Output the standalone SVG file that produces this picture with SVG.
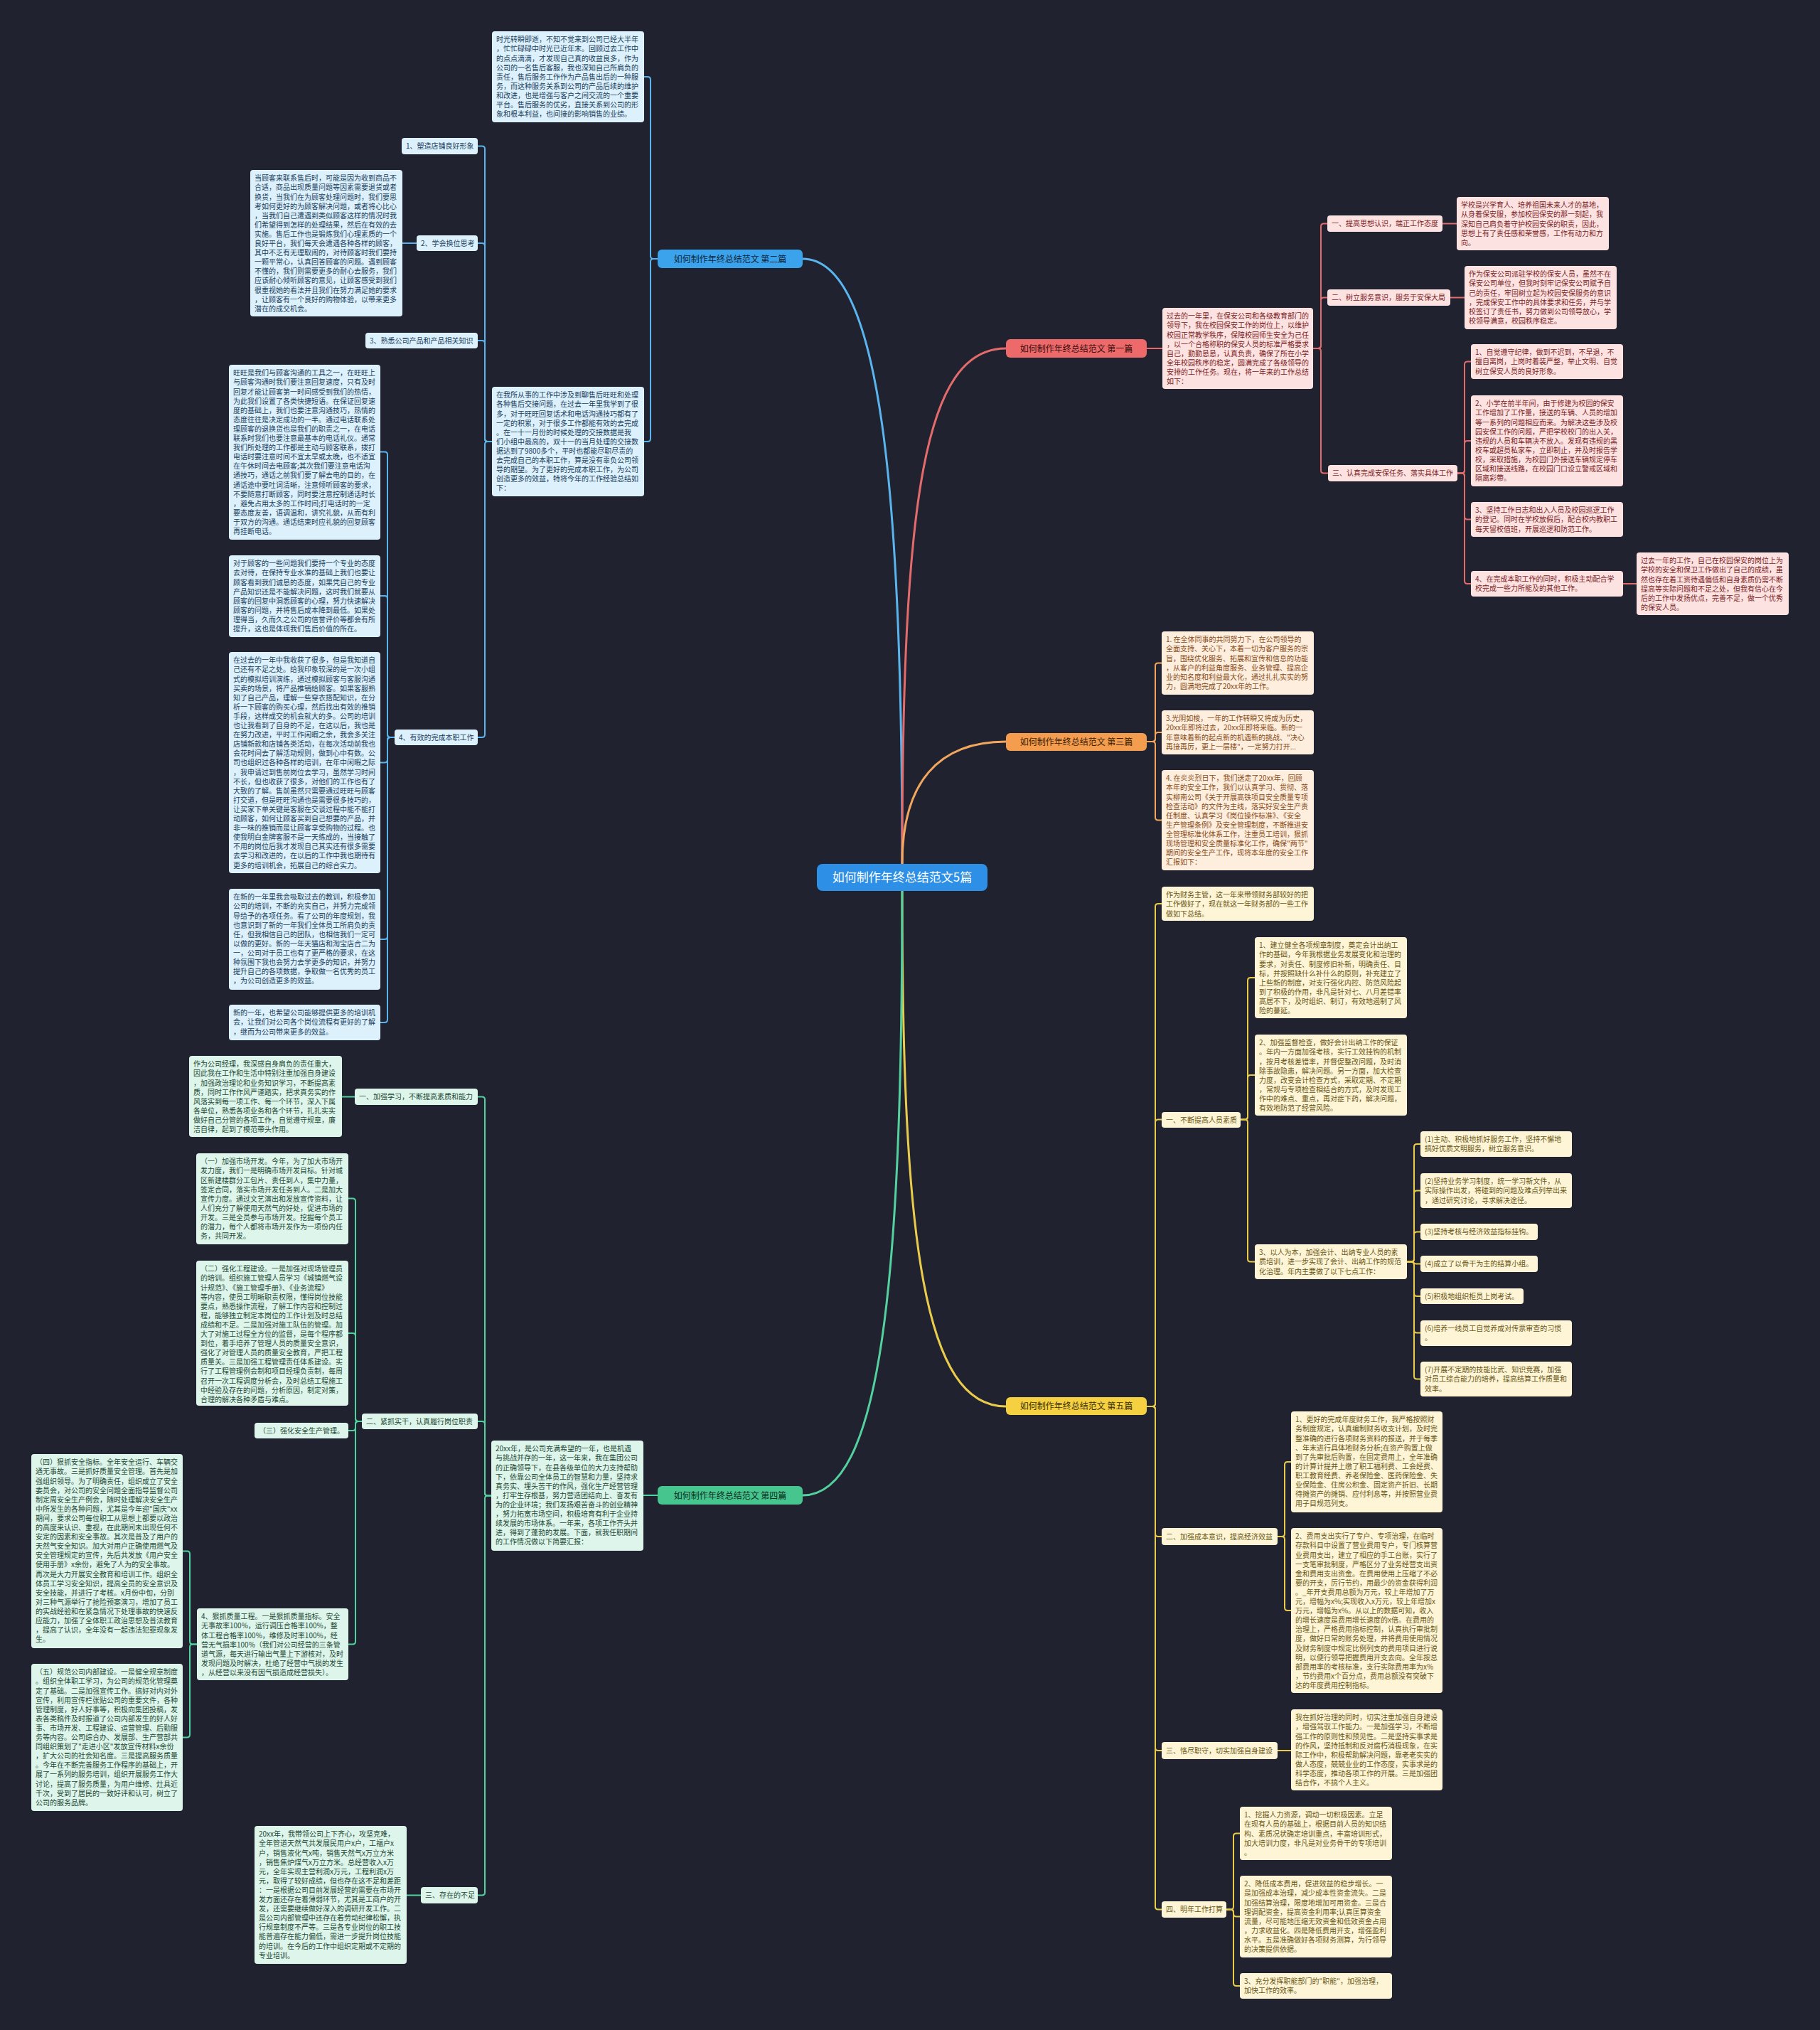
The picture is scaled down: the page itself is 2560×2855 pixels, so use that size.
<svg xmlns="http://www.w3.org/2000/svg" width="2560" height="2855" viewBox="0 0 2560 2855">
<style>
.t{font-family:"Noto Sans CJK SC","Noto Sans",sans-serif;font-size:10px}
.bt{font-family:"Noto Sans CJK SC","Noto Sans",sans-serif;font-size:12px;text-anchor:middle}
.rt{font-family:"Noto Sans CJK SC","Noto Sans",sans-serif;font-size:17px;text-anchor:middle;fill:#ffffff}
.fb{fill:#dcf1fb}.tbb{fill:#21405e}
.fr{fill:#fde2e2}.tbr{fill:#7b2424}
.fo{fill:#fdeede}.tbo{fill:#8a4b17}
.fy{fill:#fdf5d6}.tby{fill:#6a5515}
.fg{fill:#ddf5ea}.tbg{fill:#1f4a37}
.cb{fill:none;stroke:#5ab4ee;stroke-width:2}
.cr{fill:none;stroke:#e36b6b;stroke-width:2}
.co{fill:none;stroke:#f3a65d;stroke-width:2}
.cy{fill:none;stroke:#e9cc4c;stroke-width:2}
.cg{fill:none;stroke:#53d19f;stroke-width:2}
.main{stroke-width:3}
</style>
<rect x="0" y="0" width="2560" height="2855" fill="#20232f"/>

<g id="connectors">
<path class="cb main" d="M1269 1215 C1269 700 1240 364 1129 364"/>
<path class="cb" d="M925 364 H919 Q915 364 915 360 V112 Q915 108 911 108 H906"/>
<path class="cb" d="M925 364 H919 Q915 364 915 368 V617 Q915 621 911 621 H906"/>
<path class="cb" d="M692 621 H686 Q682 621 682 617 V209.5 Q682 205.5 678 205.5 H672"/>
<path class="cb" d="M692 621 H686 Q682 621 682 617 V346 Q682 342 678 342 H672"/>
<path class="cb" d="M692 621 H686 Q682 621 682 617 V483 Q682 479 678 479 H672"/>
<path class="cb" d="M692 621 H686 Q682 621 682 625 V1033 Q682 1037 678 1037 H672"/>
<path class="cb" d="M586 342 H566"/>
<path class="cb" d="M555 1037 H549 Q545 1037 545 1033 V639.5 Q545 635.5 541 635.5 H535"/>
<path class="cb" d="M555 1037 H549 Q545 1037 545 1033 V842 Q545 838 541 838 H535"/>
<path class="cb" d="M555 1037 H549 Q545 1037 545 1041 V1068.5 Q545 1072.5 541 1072.5 H535"/>
<path class="cb" d="M555 1037 H549 Q545 1037 545 1041 V1317 Q545 1321 541 1321 H535"/>
<path class="cb" d="M555 1037 H549 Q545 1037 545 1041 V1434 Q545 1438 541 1438 H535"/>

<path class="cr main" d="M1269 1215 C1269 700 1300 490 1415 490"/>
<path class="cr" d="M1613 490 H1635"/>
<path class="cr" d="M1847 490 H1854 Q1858 490 1858 486 V318.5 Q1858 314.5 1862 314.5 H1867"/>
<path class="cr" d="M1847 490 H1854 Q1858 490 1858 486 V422.5 Q1858 418.5 1862 418.5 H1867"/>
<path class="cr" d="M1847 490 H1854 Q1858 490 1858 494 V661.5 Q1858 665.5 1862 665.5 H1868"/>
<path class="cr" d="M2029 314.5 H2049"/>
<path class="cr" d="M2040 418.5 H2060"/>
<path class="cr" d="M2050 665.5 H2056 Q2060 665.5 2060 661.5 V512.5 Q2060 508.5 2064 508.5 H2069"/>
<path class="cr" d="M2050 665.5 H2056 Q2060 665.5 2060 661.5 V624 Q2060 620 2064 620 H2069"/>
<path class="cr" d="M2050 665.5 H2056 Q2060 665.5 2060 669.5 V726.5 Q2060 730.5 2064 730.5 H2069"/>
<path class="cr" d="M2050 665.5 H2056 Q2060 665.5 2060 669.5 V817 Q2060 821 2064 821 H2069"/>
<path class="cr" d="M2283 821 H2302"/>

<path class="co main" d="M1269 1215 C1269 1100 1320 1043 1415 1043"/>
<path class="co" d="M1613 1043 H1621 Q1625 1043 1625 1039 V936.5 Q1625 932.5 1629 932.5 H1634"/>
<path class="co" d="M1613 1043 H1621 Q1625 1043 1625 1039 V1034 Q1625 1030 1629 1030 H1634"/>
<path class="co" d="M1613 1043 H1621 Q1625 1043 1625 1047 V1149.5 Q1625 1153.5 1629 1153.5 H1634"/>

<path class="cy main" d="M1269 1253 C1269 1750 1300 1978 1415 1978"/>
<path class="cy" d="M1613 1978 H1621 Q1625 1978 1625 1974 V1275 Q1625 1271 1629 1271 H1634"/>
<path class="cy" d="M1613 1978 H1621 Q1625 1978 1625 1974 V1578.5 Q1625 1574.5 1629 1574.5 H1634"/>
<path class="cy" d="M1613 1978 H1621 Q1625 1978 1625 1982 V2157 Q1625 2161 1629 2161 H1634"/>
<path class="cy" d="M1613 1978 H1621 Q1625 1978 1625 1982 V2458 Q1625 2462 1629 2462 H1634"/>
<path class="cy" d="M1613 1978 H1621 Q1625 1978 1625 1982 V2681.5 Q1625 2685.5 1629 2685.5 H1634"/>
<path class="cy" d="M1745 1574.5 H1751 Q1755 1574.5 1755 1570.5 V1379 Q1755 1375 1759 1375 H1765"/>
<path class="cy" d="M1745 1574.5 H1751 Q1755 1574.5 1755 1570.5 V1516 Q1755 1512 1759 1512 H1765"/>
<path class="cy" d="M1745 1574.5 H1751 Q1755 1574.5 1755 1578.5 V1770.5 Q1755 1774.5 1759 1774.5 H1765"/>
<path class="cy" d="M1979 1774.5 H1985 Q1989 1774.5 1989 1770.5 V1613 Q1989 1609 1993 1609 H1998"/>
<path class="cy" d="M1979 1774.5 H1985 Q1989 1774.5 1989 1770.5 V1678.5 Q1989 1674.5 1993 1674.5 H1998"/>
<path class="cy" d="M1979 1774.5 H1985 Q1989 1774.5 1989 1770.5 V1736.5 Q1989 1732.5 1993 1732.5 H1998"/>
<path class="cy" d="M1979 1774.5 H1984 C1988 1774.5 1988 1777.5 1992 1777.5 H1998"/>
<path class="cy" d="M1979 1774.5 H1985 Q1989 1774.5 1989 1778.5 V1819 Q1989 1823 1993 1823 H1998"/>
<path class="cy" d="M1979 1774.5 H1985 Q1989 1774.5 1989 1778.5 V1870.5 Q1989 1874.5 1993 1874.5 H1998"/>
<path class="cy" d="M1979 1774.5 H1985 Q1989 1774.5 1989 1778.5 V1935.5 Q1989 1939.5 1993 1939.5 H1998"/>
<path class="cy" d="M1797 2161 H1803 Q1807 2161 1807 2157 V2060 Q1807 2056 1811 2056 H1816"/>
<path class="cy" d="M1797 2161 H1803 Q1807 2161 1807 2165 V2261 Q1807 2265 1811 2265 H1816"/>
<path class="cy" d="M1797 2462 H1816"/>
<path class="cy" d="M1725 2685.5 H1731 Q1735 2685.5 1735 2681.5 V2582.5 Q1735 2578.5 1739 2578.5 H1744"/>
<path class="cy" d="M1725 2685.5 H1731 Q1735 2685.5 1735 2689.5 V2691.5 Q1735 2695.5 1739 2695.5 H1744"/>
<path class="cy" d="M1725 2685.5 H1731 Q1735 2685.5 1735 2689.5 V2789 Q1735 2793 1739 2793 H1744"/>

<path class="cg main" d="M1269 1253 C1269 1800 1240 2103 1129 2103"/>
<path class="cg" d="M925 2103 H905"/>
<path class="cg" d="M691 2103.5 H686 Q682 2103.5 682 2099.5 V1546.5 Q682 1542.5 678 1542.5 H672"/>
<path class="cg" d="M691 2103.5 H686 Q682 2103.5 682 2099.5 V2003 Q682 1999 678 1999 H672"/>
<path class="cg" d="M691 2103.5 H686 Q682 2103.5 682 2107.5 V2661.5 Q682 2665.5 678 2665.5 H672"/>
<path class="cg" d="M499 1542.5 H481"/>
<path class="cg" d="M509 1999 H504 Q500 1999 500 1995 V1689.5 Q500 1685.5 496 1685.5 H490"/>
<path class="cg" d="M509 1999 H504 Q500 1999 500 1995 V1879 Q500 1875 496 1875 H490"/>
<path class="cg" d="M509 1999 H504 Q500 1999 500 2003 V2008 Q500 2012 496 2012 H490"/>
<path class="cg" d="M509 1999 H504 Q500 1999 500 2003 V2308.5 Q500 2312.5 496 2312.5 H490"/>
<path class="cg" d="M277 2312.5 H271 Q267 2312.5 267 2308.5 V2185.5 Q267 2181.5 263 2181.5 H257"/>
<path class="cg" d="M277 2312.5 H271 Q267 2312.5 267 2316.5 V2439.5 Q267 2443.5 263 2443.5 H257"/>
<path class="cg" d="M592 2665.5 H572"/>
</g>

<g id="root">
<rect x="1149" y="1215" width="240" height="38" rx="8" fill="#2d8fe6"/>
<text class="rt" x="1269" y="1240">如何制作年终总结范文5篇</text>
</g>

<!-- BLUE BRANCH -->
<g id="b2"><rect x="925" y="351" width="204" height="26" rx="6" fill="#3aa3ec"/><text class="bt" x="1027" y="368.5" fill="#10263a">如何制作年终总结范文 第二篇</text></g>
<g id="b2-top"><rect class="fb" x="692" y="44" width="214" height="128" rx="4"/>
<text class="t tbb" x="698" y="59.3"><tspan x="698" dy="0">时光转瞬即逝，不知不觉来到公司已经大半年</tspan><tspan x="698" dy="13.1">，忙忙碌碌中时光已近年末。回顾过去工作中</tspan><tspan x="698" dy="13.1">的点点滴滴，才发现自己真的收益良多，作为</tspan><tspan x="698" dy="13.1">公司的一名售后客服，我也深知自己所肩负的</tspan><tspan x="698" dy="13.1">责任，售后服务工作作为产品售出后的一种服</tspan><tspan x="698" dy="13.1">务，而这种服务关系到公司的产品后续的维护</tspan><tspan x="698" dy="13.1">和改进，也是增强与客户之间交流的一个重要</tspan><tspan x="698" dy="13.1">平台。售后服务的优劣，直接关系到公司的形</tspan><tspan x="698" dy="13.1">象和根本利益，也间接的影响销售的业绩。</tspan></text></g>
<g id="b2-center"><rect class="fb" x="692" y="544" width="214" height="154" rx="4"/>
<text class="t tbb" x="698" y="559.3"><tspan x="698" dy="0">在我所从事的工作中涉及到聊售后旺旺和处理</tspan><tspan x="698" dy="13.1">各种售后交接问题，在过去一年里我学到了很</tspan><tspan x="698" dy="13.1">多，对于旺旺回复话术和电话沟通技巧都有了</tspan><tspan x="698" dy="13.1">一定的积累，对于很多工作都能有效的去完成</tspan><tspan x="698" dy="13.1">。在一十一月份的时候处理的交接数据是我</tspan><tspan x="698" dy="13.1">们小组中最高的，双十一的当月处理的交接数</tspan><tspan x="698" dy="13.1">据达到了9800多个，平时也都能尽职尽责的</tspan><tspan x="698" dy="13.1">去完成自己的本职工作，算是没有辜负公司领</tspan><tspan x="698" dy="13.1">导的期望。为了更好的完成本职工作，为公司</tspan><tspan x="698" dy="13.1">创造更多的效益，特将今年的工作经验总结如</tspan><tspan x="698" dy="13.1">下：</tspan></text></g>
<g id="b2-l1"><rect class="fb" x="565" y="194" width="107" height="23" rx="4"/><text class="t tbb" x="571" y="209">1、塑造店铺良好形象</text></g>
<g id="b2-l2"><rect class="fb" x="586" y="331" width="86" height="22" rx="4"/><text class="t tbb" x="592" y="345.6">2、学会换位思考</text></g>
<g id="b2-l3"><rect class="fb" x="514" y="468" width="158" height="22" rx="4"/><text class="t tbb" x="520" y="482.6">3、熟悉公司产品和产品相关知识</text></g>
<g id="b2-l4"><rect class="fb" x="555" y="1026" width="117" height="22" rx="4"/><text class="t tbb" x="561" y="1040.6">4、有效的完成本职工作</text></g>
<g id="b2-huan"><rect class="fb" x="352" y="239" width="214" height="206" rx="4"/>
<text class="t tbb" x="358" y="254.3"><tspan x="358" dy="0">当顾客来联系售后时，可能是因为收到商品不</tspan><tspan x="358" dy="13.1">合适，商品出现质量问题等因素需要退货或者</tspan><tspan x="358" dy="13.1">换货，当我们在为顾客处理问题时，我们要思</tspan><tspan x="358" dy="13.1">考如何更好的为顾客解决问题，或者将心比心</tspan><tspan x="358" dy="13.1">，当我们自己遭遇到类似顾客这样的情况时我</tspan><tspan x="358" dy="13.1">们希望得到怎样的处理结果，然后在有效的去</tspan><tspan x="358" dy="13.1">实施。售后工作也是锻炼我们心理素质的一个</tspan><tspan x="358" dy="13.1">良好平台，我们每天会遭遇各种各样的顾客，</tspan><tspan x="358" dy="13.1">其中不乏有无理取闹的，对待顾客时我们要持</tspan><tspan x="358" dy="13.1">一颗平常心，认真回答顾客的问题。遇到顾客</tspan><tspan x="358" dy="13.1">不懂的，我们则需要更多的耐心去服务，我们</tspan><tspan x="358" dy="13.1">应该耐心倾听顾客的意见，让顾客感受到我们</tspan><tspan x="358" dy="13.1">很重视她的看法并且我们在努力满足她的要求</tspan><tspan x="358" dy="13.1">，让顾客有一个良好的购物体验，以带来更多</tspan><tspan x="358" dy="13.1">潜在的成交机会。</tspan></text></g>
<g id="b2-wang"><rect class="fb" x="322" y="513" width="213" height="246" rx="4"/>
<text class="t tbb" x="328" y="528.3"><tspan x="328" dy="0">旺旺是我们与顾客沟通的工具之一，在旺旺上</tspan><tspan x="328" dy="13.1">与顾客沟通时我们要注意回复速度，只有及时</tspan><tspan x="328" dy="13.1">回复才能让顾客第一时间感受到我们的热情，</tspan><tspan x="328" dy="13.1">为此我们设置了各类快捷短语。在保证回复速</tspan><tspan x="328" dy="13.1">度的基础上，我们也要注意沟通技巧，热情的</tspan><tspan x="328" dy="13.1">态度往往是决定成功的一半。通过电话联系处</tspan><tspan x="328" dy="13.1">理顾客的退换货也是我们的职责之一，在电话</tspan><tspan x="328" dy="13.1">联系时我们也要注意最基本的电话礼仪。通常</tspan><tspan x="328" dy="13.1">我们所处理的工作都是主动与顾客联系，拨打</tspan><tspan x="328" dy="13.1">电话时要注意时间不宜太早或太晚，也不适宜</tspan><tspan x="328" dy="13.1">在午休时间去电顾客;其次我们要注意电话沟</tspan><tspan x="328" dy="13.1">通技巧，通话之前我们要了解去电的目的，在</tspan><tspan x="328" dy="13.1">通话途中要吐词清晰，注意倾听顾客的要求，</tspan><tspan x="328" dy="13.1">不要随意打断顾客，同时要注意控制通话时长</tspan><tspan x="328" dy="13.1">，避免占用太多的工作时间;打电话时的一定</tspan><tspan x="328" dy="13.1">要态度友善，语调温和，讲究礼貌，从而有利</tspan><tspan x="328" dy="13.1">于双方的沟通。通话结束时应礼貌的回复顾客</tspan><tspan x="328" dy="13.1">再挂断电话。</tspan></text></g>
<g id="b2-duiyu"><rect class="fb" x="322" y="781" width="213" height="115" rx="4"/>
<text class="t tbb" x="328" y="796.3"><tspan x="328" dy="0">对于顾客的一些问题我们要持一个专业的态度</tspan><tspan x="328" dy="13.1">去对待，在保持专业水准的基础上我们也要让</tspan><tspan x="328" dy="13.1">顾客看到我们诚恳的态度，如果凭自己的专业</tspan><tspan x="328" dy="13.1">产品知识还是不能解决问题，这时我们就要从</tspan><tspan x="328" dy="13.1">顾客的回复中洞悉顾客的心理，努力快速解决</tspan><tspan x="328" dy="13.1">顾客的问题，并将售后成本降到最低。如果处</tspan><tspan x="328" dy="13.1">理得当，久而久之公司的信誉评价等都会有所</tspan><tspan x="328" dy="13.1">提升，这也是体现我们售后价值的所在。</tspan></text></g>
<g id="b2-guoqu"><rect class="fb" x="322" y="917" width="213" height="311" rx="4"/>
<text class="t tbb" x="328" y="932.3"><tspan x="328" dy="0">在过去的一年中我收获了很多，但是我知道自</tspan><tspan x="328" dy="13.1">己还有不足之处。给我印象较深的是一次小组</tspan><tspan x="328" dy="13.1">式的模拟培训演练，通过模拟顾客与客服沟通</tspan><tspan x="328" dy="13.1">买卖的场景，将产品推销给顾客。如果客服熟</tspan><tspan x="328" dy="13.1">知了自己产品，理解一些穿衣搭配知识，在分</tspan><tspan x="328" dy="13.1">析一下顾客的购买心理，然后找出有效的推销</tspan><tspan x="328" dy="13.1">手段，这样成交的机会就大的多。公司的培训</tspan><tspan x="328" dy="13.1">也让我看到了自身的不足，在这以后，我也是</tspan><tspan x="328" dy="13.1">在努力改进，平时工作闲暇之余，我会多关注</tspan><tspan x="328" dy="13.1">店铺新款和店铺各类活动，在每次活动前我也</tspan><tspan x="328" dy="13.1">会花时间去了解活动规则，做到心中有数。公</tspan><tspan x="328" dy="13.1">司也组织过各种各样的培训，在年中闲暇之际</tspan><tspan x="328" dy="13.1">，我申请过到售前岗位去学习，虽然学习时间</tspan><tspan x="328" dy="13.1">不长，但也收获了很多，对他们的工作也有了</tspan><tspan x="328" dy="13.1">大致的了解。售前虽然只需要通过旺旺与顾客</tspan><tspan x="328" dy="13.1">打交道，但是旺旺沟通也是需要很多技巧的，</tspan><tspan x="328" dy="13.1">让买家下单关键是客服在交谈过程中能不能打</tspan><tspan x="328" dy="13.1">动顾客，如何让顾客买到自己想要的产品，并</tspan><tspan x="328" dy="13.1">非一味的推销而是让顾客享受购物的过程。也</tspan><tspan x="328" dy="13.1">使我明白金牌客服不是一天练成的，当接触了</tspan><tspan x="328" dy="13.1">不用的岗位后我才发现自己其实还有很多需要</tspan><tspan x="328" dy="13.1">去学习和改进的，在以后的工作中我也期待有</tspan><tspan x="328" dy="13.1">更多的培训机会，拓展自己的综合实力。</tspan></text></g>
<g id="b2-xinde"><rect class="fb" x="322" y="1250" width="213" height="142" rx="4"/>
<text class="t tbb" x="328" y="1265.3"><tspan x="328" dy="0">在新的一年里我会吸取过去的教训，积极参加</tspan><tspan x="328" dy="13.1">公司的培训，不断的充实自己，并努力完成领</tspan><tspan x="328" dy="13.1">导给予的各项任务。看了公司的年度规划，我</tspan><tspan x="328" dy="13.1">也意识到了新的一年我们全体员工所肩负的责</tspan><tspan x="328" dy="13.1">任，但我相信自己的团队，也相信我们一定可</tspan><tspan x="328" dy="13.1">以做的更好。新的一年天猫店和淘宝店合二为</tspan><tspan x="328" dy="13.1">一，公司对于员工也有了更严格的要求，在这</tspan><tspan x="328" dy="13.1">种氛围下我也会努力去学更多的知识，并努力</tspan><tspan x="328" dy="13.1">提升自己的各项数据，争取做一名优秀的员工</tspan><tspan x="328" dy="13.1">，为公司创造更多的效益。</tspan></text></g>
<g id="b2-xinyinian"><rect class="fb" x="322" y="1413" width="213" height="50" rx="4"/>
<text class="t tbb" x="328" y="1428.3"><tspan x="328" dy="0">新的一年，也希望公司能够提供更多的培训机</tspan><tspan x="328" dy="13.1">会，让我们对公司各个岗位流程有更好的了解</tspan><tspan x="328" dy="13.1">，继而为公司带来更多的效益。</tspan></text></g>

<!-- RED BRANCH -->
<g id="b1"><rect x="1415" y="477" width="198" height="26" rx="6" fill="#ee6a6a"/><text class="bt" x="1514" y="494.5" fill="#3a0e0e">如何制作年终总结范文 第一篇</text></g>
<g id="b1-intro"><rect class="fr" x="1635" y="433" width="212" height="114" rx="4"/>
<text class="t tbr" x="1641" y="448.3"><tspan x="1641" dy="0">过去的一年里，在保安公司和各级教育部门的</tspan><tspan x="1641" dy="13.1">领导下，我在校园保安工作的岗位上，以维护</tspan><tspan x="1641" dy="13.1">校园正常教学秩序，保障校园师生安全为己任</tspan><tspan x="1641" dy="13.1">，以一个合格称职的保安人员的标准严格要求</tspan><tspan x="1641" dy="13.1">自己，勤勤恳恳，认真负责，确保了所在小学</tspan><tspan x="1641" dy="13.1">全年校园秩序的稳定，圆满完成了各级领导的</tspan><tspan x="1641" dy="13.1">安排的工作任务。现在，将一年来的工作总结</tspan><tspan x="1641" dy="13.1">如下：</tspan></text></g>
<g id="b1-l1"><rect class="fr" x="1867" y="303" width="162" height="23" rx="4"/><text class="t tbr" x="1873" y="318">一、提高思想认识，端正工作态度</text></g>
<g id="b1-l2"><rect class="fr" x="1867" y="407" width="173" height="23" rx="4"/><text class="t tbr" x="1873" y="422">二、树立服务意识，服务于安保大局</text></g>
<g id="b1-l3"><rect class="fr" x="1868" y="654" width="182" height="23" rx="4"/><text class="t tbr" x="1874" y="669">三、认真完成安保任务、落实具体工作</text></g>
<g id="b1-xuexiao"><rect class="fr" x="2049" y="277" width="214" height="75" rx="4"/>
<text class="t tbr" x="2055" y="292.3"><tspan x="2055" dy="0">学校是兴学育人、培养祖国未来人才的基地，</tspan><tspan x="2055" dy="13.1">从身着保安服，参加校园保安的那一刻起，我</tspan><tspan x="2055" dy="13.1">深知自己肩负着守护校园安保的职责，因此，</tspan><tspan x="2055" dy="13.1">思想上有了责任感和荣誉感，工作有动力和方</tspan><tspan x="2055" dy="13.1">向。</tspan></text></g>
<g id="b1-zuowei"><rect class="fr" x="2060" y="374" width="214" height="89" rx="4"/>
<text class="t tbr" x="2066" y="389.3"><tspan x="2066" dy="0">作为保安公司派驻学校的保安人员，虽然不在</tspan><tspan x="2066" dy="13.1">保安公司单位，但我时刻牢记保安公司赋予自</tspan><tspan x="2066" dy="13.1">己的责任，牢固树立起为校园安保服务的意识</tspan><tspan x="2066" dy="13.1">，完成保安工作中的具体要求和任务，并与学</tspan><tspan x="2066" dy="13.1">校签订了责任书，努力做到公司领导放心，学</tspan><tspan x="2066" dy="13.1">校领导满意，校园秩序稳定。</tspan></text></g>
<g id="b1-r1"><rect class="fr" x="2069" y="484" width="214" height="49" rx="4"/>
<text class="t tbr" x="2075" y="499.3"><tspan x="2075" dy="0">1、自觉遵守纪律，做到不迟到，不早退，不</tspan><tspan x="2075" dy="13.1">擅自离岗，上岗时着装严整，举止文明、自觉</tspan><tspan x="2075" dy="13.1">树立保安人员的良好形象。</tspan></text></g>
<g id="b1-r2"><rect class="fr" x="2069" y="556" width="214" height="128" rx="4"/>
<text class="t tbr" x="2075" y="571.3"><tspan x="2075" dy="0">2、小学在前半年间，由于修建为校园的保安</tspan><tspan x="2075" dy="13.1">工作增加了工作量，接送的车辆、人员的增加</tspan><tspan x="2075" dy="13.1">等一系列的问题相应而来。为解决这些涉及校</tspan><tspan x="2075" dy="13.1">园安保工作的问题，严把学校校门的出入关，</tspan><tspan x="2075" dy="13.1">违规的人员和车辆决不放入。发现有违规的黑</tspan><tspan x="2075" dy="13.1">校车或超员私家车，立即制止，并及时报告学</tspan><tspan x="2075" dy="13.1">校，采取措施，为校园门外接送车辆规定停车</tspan><tspan x="2075" dy="13.1">区域和接送线路，在校园门口设立警戒区域和</tspan><tspan x="2075" dy="13.1">隔离彩带。</tspan></text></g>
<g id="b1-r3"><rect class="fr" x="2069" y="706" width="214" height="49" rx="4"/>
<text class="t tbr" x="2075" y="721.3"><tspan x="2075" dy="0">3、坚持工作日志和出入人员及校园巡逻工作</tspan><tspan x="2075" dy="13.1">的登记。同时在学校放假后，配合校内教职工</tspan><tspan x="2075" dy="13.1">每天留校值班，开展巡逻和防范工作。</tspan></text></g>
<g id="b1-r4"><rect class="fr" x="2069" y="803" width="214" height="36" rx="4"/>
<text class="t tbr" x="2075" y="818.3"><tspan x="2075" dy="0">4、在完成本职工作的同时，积极主动配合学</tspan><tspan x="2075" dy="13.1">校完成一些力所能及的其他工作。</tspan></text></g>
<g id="b1-guoqu"><rect class="fr" x="2302" y="777" width="214" height="88" rx="4"/>
<text class="t tbr" x="2308" y="792.3"><tspan x="2308" dy="0">过去一年的工作，自己在校园保安的岗位上为</tspan><tspan x="2308" dy="13.1">学校的安全和保卫工作做出了自己的成绩，虽</tspan><tspan x="2308" dy="13.1">然也存在着工资待遇偏低和自身素质仍需不断</tspan><tspan x="2308" dy="13.1">提高等实际问题和不足之处，但我有信心在今</tspan><tspan x="2308" dy="13.1">后的工作中发扬优点，完善不足，做一个优秀</tspan><tspan x="2308" dy="13.1">的保安人员。</tspan></text></g>

<!-- ORANGE BRANCH -->
<g id="b3"><rect x="1415" y="1031" width="198" height="25" rx="6" fill="#f59d4f"/><text class="bt" x="1514" y="1048" fill="#3a1e05">如何制作年终总结范文 第三篇</text></g>
<g id="b3-1"><rect class="fo" x="1634" y="888" width="214" height="89" rx="4"/>
<text class="t tbo" x="1640" y="903.3"><tspan x="1640" dy="0">1. 在全体同事的共同努力下，在公司领导的</tspan><tspan x="1640" dy="13.1">全面支持、关心下，本着一切为客户服务的宗</tspan><tspan x="1640" dy="13.1">旨，围绕优化服务、拓展和宣传和信息的功能</tspan><tspan x="1640" dy="13.1">，从客户的利益角度服务、业务管理、提高企</tspan><tspan x="1640" dy="13.1">业的知名度和利益最大化，通过扎扎实实的努</tspan><tspan x="1640" dy="13.1">力，圆满地完成了20xx年的工作。</tspan></text></g>
<g id="b3-3"><rect class="fo" x="1634" y="999" width="214" height="62" rx="4"/>
<text class="t tbo" x="1640" y="1014.3"><tspan x="1640" dy="0">3.光阴如梭，一年的工作转瞬又将成为历史，</tspan><tspan x="1640" dy="13.1">20xx年即将过去，20xx年即将来临。新的一</tspan><tspan x="1640" dy="13.1">年意味着新的起点新的机遇新的挑战、"决心</tspan><tspan x="1640" dy="13.1">再接再厉，更上一层楼"，一定努力打开...</tspan></text></g>
<g id="b3-4"><rect class="fo" x="1634" y="1083" width="214" height="141" rx="4"/>
<text class="t tbo" x="1640" y="1098.3"><tspan x="1640" dy="0">4. 在炎炎烈日下，我们送走了20xx年，回顾</tspan><tspan x="1640" dy="13.1">本年的安全工作，我们以认真学习、贯彻、落</tspan><tspan x="1640" dy="13.1">实柳南公司《关于开展高铁项目安全质量专项</tspan><tspan x="1640" dy="13.1">检查活动》的文件为主线，落实好安全生产责</tspan><tspan x="1640" dy="13.1">任制度、认真学习《岗位操作标准》、《安全</tspan><tspan x="1640" dy="13.1">生产管理条例》及安全管理制度，不断推进安</tspan><tspan x="1640" dy="13.1">全管理标准化体系工作，注重员工培训，狠抓</tspan><tspan x="1640" dy="13.1">现场管理和安全质量标准化工作，确保"两节"</tspan><tspan x="1640" dy="13.1">期间的安全生产工作，现将本年度的安全工作</tspan><tspan x="1640" dy="13.1">汇报如下：</tspan></text></g>

<!-- YELLOW BRANCH -->
<g id="b5"><rect x="1415" y="1965" width="198" height="25" rx="6" fill="#f5d142"/><text class="bt" x="1514" y="1982" fill="#3a3005">如何制作年终总结范文 第五篇</text></g>
<g id="b5-intro"><rect class="fy" x="1634" y="1247" width="214" height="48" rx="4"/>
<text class="t tby" x="1640" y="1262.3"><tspan x="1640" dy="0">作为财务主管，这一年来带领财务部较好的把</tspan><tspan x="1640" dy="13.1">工作做好了，现在就这一年财务部的一些工作</tspan><tspan x="1640" dy="13.1">做如下总结。</tspan></text></g>
<g id="b5-l1"><rect class="fy" x="1634" y="1564" width="111" height="22" rx="4"/><text class="t tby" x="1640" y="1578.6">一、不断提高人员素质</text></g>
<g id="b5-l2"><rect class="fy" x="1634" y="2149" width="163" height="24" rx="4"/><text class="t tby" x="1640" y="2164.6">二、加强成本意识，提高经济效益</text></g>
<g id="b5-l3"><rect class="fy" x="1634" y="2450" width="163" height="24" rx="4"/><text class="t tby" x="1640" y="2465.6">三、恪尽职守，切实加强自身建设</text></g>
<g id="b5-l4"><rect class="fy" x="1634" y="2674" width="91" height="23" rx="4"/><text class="t tby" x="1640" y="2689">四、明年工作打算</text></g>
<g id="b5-a1"><rect class="fy" x="1765" y="1318" width="214" height="114" rx="4"/>
<text class="t tby" x="1771" y="1333.3"><tspan x="1771" dy="0">1、建立健全各项规章制度，奠定会计出纳工</tspan><tspan x="1771" dy="13.1">作的基础，今年我根据业务发展变化和治理的</tspan><tspan x="1771" dy="13.1">要求，对责任、制度修旧补新，明确责任、目</tspan><tspan x="1771" dy="13.1">标，并按照缺什么补什么的原则，补充建立了</tspan><tspan x="1771" dy="13.1">上些新的制度，对支行强化内控、防范风险起</tspan><tspan x="1771" dy="13.1">到了积极的作用，非凡是针对七、八月差错率</tspan><tspan x="1771" dy="13.1">高居不下，及时组织、制订，有效地遏制了风</tspan><tspan x="1771" dy="13.1">险的蔓延。</tspan></text></g>
<g id="b5-a2"><rect class="fy" x="1765" y="1455" width="214" height="114" rx="4"/>
<text class="t tby" x="1771" y="1470.3"><tspan x="1771" dy="0">2、加强监督检查，做好会计出纳工作的保证</tspan><tspan x="1771" dy="13.1">。年内一方面加强考核，实行工效挂钩的机制</tspan><tspan x="1771" dy="13.1">，按月考核差错率，并督促整改问题，及时消</tspan><tspan x="1771" dy="13.1">除事故隐患，解决问题。另一方面，加大检查</tspan><tspan x="1771" dy="13.1">力度，改变会计检查方式，采取定期、不定期</tspan><tspan x="1771" dy="13.1">，常规与专项检查相结合的方式，及时发现工</tspan><tspan x="1771" dy="13.1">作中的难点、重点，再对症下药，解决问题，</tspan><tspan x="1771" dy="13.1">有效地防范了经营风险。</tspan></text></g>
<g id="b5-a3"><rect class="fy" x="1765" y="1750" width="214" height="49" rx="4"/>
<text class="t tby" x="1771" y="1765.3"><tspan x="1771" dy="0">3、以人为本，加强会计、出纳专业人员的素</tspan><tspan x="1771" dy="13.1">质培训，进一步实现了会计、出纳工作的规范</tspan><tspan x="1771" dy="13.1">化治理。年内主要做了以下七点工作：</tspan></text></g>
<g id="b5-s1"><rect class="fy" x="1998" y="1591" width="213" height="36" rx="4"/>
<text class="t tby" x="2004" y="1606.3"><tspan x="2004" dy="0">(1)主动、积极地抓好服务工作，坚持不懈地</tspan><tspan x="2004" dy="13.1">搞好优质文明服务，树立服务意识。</tspan></text></g>
<g id="b5-s2"><rect class="fy" x="1998" y="1650" width="213" height="49" rx="4"/>
<text class="t tby" x="2004" y="1665.3"><tspan x="2004" dy="0">(2)坚持业务学习制度，统一学习新文件，从</tspan><tspan x="2004" dy="13.1">实际操作出发，将碰到的问题及难点列举出来</tspan><tspan x="2004" dy="13.1">，通过研究讨论，寻求解决途径。</tspan></text></g>
<g id="b5-s3"><rect class="fy" x="1998" y="1721" width="165" height="23" rx="4"/><text class="t tby" x="2004" y="1736">(3)坚持考核与经济效益指标挂钩。</text></g>
<g id="b5-s4"><rect class="fy" x="1998" y="1766" width="165" height="23" rx="4"/><text class="t tby" x="2004" y="1781">(4)成立了以骨干为主的结算小组。</text></g>
<g id="b5-s5"><rect class="fy" x="1998" y="1812" width="145" height="22" rx="4"/><text class="t tby" x="2004" y="1826.6">(5)积极地组织柜员上岗考试。</text></g>
<g id="b5-s6"><rect class="fy" x="1998" y="1857" width="213" height="36" rx="4"/>
<text class="t tby" x="2004" y="1872.3"><tspan x="2004" dy="0">(6)培养一线员工自觉养成对传票审查的习惯</tspan><tspan x="2004" dy="13.1">。</tspan></text></g>
<g id="b5-s7"><rect class="fy" x="1998" y="1915" width="213" height="49" rx="4"/>
<text class="t tby" x="2004" y="1930.3"><tspan x="2004" dy="0">(7)开展不定期的技能比武、知识竞赛，加强</tspan><tspan x="2004" dy="13.1">对员工综合能力的培养，提高结算工作质量和</tspan><tspan x="2004" dy="13.1">效率。</tspan></text></g>
<g id="b5-c1"><rect class="fy" x="1816" y="1985" width="213" height="142" rx="4"/>
<text class="t tby" x="1822" y="2000.3"><tspan x="1822" dy="0">1、更好的完成年度财务工作，我严格按照财</tspan><tspan x="1822" dy="13.1">务制度规定，认真编制财务收支计划，及时完</tspan><tspan x="1822" dy="13.1">整准确的进行各项财务资料的报送，并于每季</tspan><tspan x="1822" dy="13.1">、年末进行具体地财务分析;在资产购置上做</tspan><tspan x="1822" dy="13.1">到了先审批后购置，在固定费用上，全年准确</tspan><tspan x="1822" dy="13.1">的计算计提并上缴了职工福利费、工会经费、</tspan><tspan x="1822" dy="13.1">职工教育经费、养老保险金、医药保险金、失</tspan><tspan x="1822" dy="13.1">业保险金、住房公积金、固定资产折旧、长期</tspan><tspan x="1822" dy="13.1">待摊资产的摊销、应付利息等，并按照营业费</tspan><tspan x="1822" dy="13.1">用子目规范列支。</tspan></text></g>
<g id="b5-c2"><rect class="fy" x="1816" y="2149" width="213" height="232" rx="4"/>
<text class="t tby" x="1822" y="2164.3"><tspan x="1822" dy="0">2、费用支出实行了专户、专项治理，在临时</tspan><tspan x="1822" dy="13.1">存款科目中设置了营业费用专户，专门核算营</tspan><tspan x="1822" dy="13.1">业费用支出，建立了相应的手工台账，实行了</tspan><tspan x="1822" dy="13.1">一支笔审批制度，严格区分了业务经营支出资</tspan><tspan x="1822" dy="13.1">金和费用支出资金。在费用使用上压缩了不必</tspan><tspan x="1822" dy="13.1">要的开支，厉行节约，用最少的资金获得利润</tspan><tspan x="1822" dy="13.1">。_年开支费用总额为万元，较上年增加了万</tspan><tspan x="1822" dy="13.1">元，增幅为x%;实现收入x万元，较上年增加x</tspan><tspan x="1822" dy="13.1">万元，增幅为x%。从以上的数据可知，收入</tspan><tspan x="1822" dy="13.1">的增长速度是费用增长速度的x倍。在费用的</tspan><tspan x="1822" dy="13.1">治理上，严格费用指标控制，认真执行审批制</tspan><tspan x="1822" dy="13.1">度，做好日常的账务处理，并将费用使用情况</tspan><tspan x="1822" dy="13.1">及财务制度中规定比例列支的费用项目进行说</tspan><tspan x="1822" dy="13.1">明，以便行领导把握费用开支去向。全年按总</tspan><tspan x="1822" dy="13.1">部费用率的考核标准，支行实际费用率为x%</tspan><tspan x="1822" dy="13.1">，节约费用x个百分点，费用总额没有突破下</tspan><tspan x="1822" dy="13.1">达的年度费用控制指标。</tspan></text></g>
<g id="b5-d"><rect class="fy" x="1816" y="2404" width="213" height="114" rx="4"/>
<text class="t tby" x="1822" y="2419.3"><tspan x="1822" dy="0">我在抓好治理的同时，切实注重加强自身建设</tspan><tspan x="1822" dy="13.1">，增强驾驭工作能力。一是加强学习，不断增</tspan><tspan x="1822" dy="13.1">强工作的原则性和预见性。二是坚持实事求是</tspan><tspan x="1822" dy="13.1">的作风，坚持抵制和反对腐朽消极现象，在实</tspan><tspan x="1822" dy="13.1">际工作中，积极帮助解决问题，靠老老实实的</tspan><tspan x="1822" dy="13.1">做人态度，兢兢业业的工作态度，实事求是的</tspan><tspan x="1822" dy="13.1">科学态度，推动各项工作的开展。三是加强团</tspan><tspan x="1822" dy="13.1">结合作，不搞个人主义。</tspan></text></g>
<g id="b5-e1"><rect class="fy" x="1744" y="2541" width="214" height="75" rx="4"/>
<text class="t tby" x="1750" y="2556.3"><tspan x="1750" dy="0">1、挖掘人力资源，调动一切积极因素。立足</tspan><tspan x="1750" dy="13.1">在现有人员的基础上，根据目前人员的知识结</tspan><tspan x="1750" dy="13.1">构、素质况状确定培训重点，丰富培训形式，</tspan><tspan x="1750" dy="13.1">加大培训力度，非凡是对业务骨干的专项培训</tspan><tspan x="1750" dy="13.1">。</tspan></text></g>
<g id="b5-e2"><rect class="fy" x="1744" y="2638" width="214" height="115" rx="4"/>
<text class="t tby" x="1750" y="2653.3"><tspan x="1750" dy="0">2、降低成本费用，促进效益的稳步增长。一</tspan><tspan x="1750" dy="13.1">是加强成本治理，减少成本性资金流失。二是</tspan><tspan x="1750" dy="13.1">加强结算治理，限度地增加可用资金。三是合</tspan><tspan x="1750" dy="13.1">理调配资金，提高资金利用率;认真匡算资金</tspan><tspan x="1750" dy="13.1">流量，尽可能地压缩无效资金和低效资金占用</tspan><tspan x="1750" dy="13.1">，力求收益化。四是降低费用开支，增强盈利</tspan><tspan x="1750" dy="13.1">水平。五是准确做好各项财务测算，为行领导</tspan><tspan x="1750" dy="13.1">的决策提供依据。</tspan></text></g>
<g id="b5-e3"><rect class="fy" x="1744" y="2775" width="214" height="36" rx="4"/>
<text class="t tby" x="1750" y="2790.3"><tspan x="1750" dy="0">3、充分发挥职能部门的"职能"，加强治理，</tspan><tspan x="1750" dy="13.1">加快工作的效率。</tspan></text></g>

<!-- GREEN BRANCH -->
<g id="b4"><rect x="925" y="2090" width="204" height="26" rx="6" fill="#47c58f"/><text class="bt" x="1027" y="2107.5" fill="#0d2e20">如何制作年终总结范文 第四篇</text></g>
<g id="b4-center"><rect class="fg" x="691" y="2026" width="214" height="155" rx="4"/>
<text class="t tbg" x="697" y="2041.3"><tspan x="697" dy="0">20xx年，是公司充满希望的一年，也是机遇</tspan><tspan x="697" dy="13.1">与挑战并存的一年，这一年来，我在集团公司</tspan><tspan x="697" dy="13.1">的正确领导下，在县各级单位的大力支持帮助</tspan><tspan x="697" dy="13.1">下，依靠公司全体员工的智慧和力量，坚持求</tspan><tspan x="697" dy="13.1">真务实、埋头苦干的作风，强化生产经营管理</tspan><tspan x="697" dy="13.1">，打牢生存根基，努力营造团结向上、奋发有</tspan><tspan x="697" dy="13.1">为的企业环境；我们发扬艰苦奋斗的创业精神</tspan><tspan x="697" dy="13.1">，努力拓宽市场空间，积极培育有利于企业持</tspan><tspan x="697" dy="13.1">续发展的市场体系。一年来，各项工作齐头并</tspan><tspan x="697" dy="13.1">进，得到了蓬勃的发展。下面，就我任职期间</tspan><tspan x="697" dy="13.1">的工作情况做以下简要汇报：</tspan></text></g>
<g id="b4-l1"><rect class="fg" x="499" y="1531" width="173" height="23" rx="4"/><text class="t tbg" x="505" y="1546">一、加强学习，不断提高素质和能力</text></g>
<g id="b4-l2"><rect class="fg" x="509" y="1988" width="163" height="22" rx="4"/><text class="t tbg" x="515" y="2002.6">二、紧抓实干，认真履行岗位职责</text></g>
<g id="b4-l3"><rect class="fg" x="592" y="2654" width="80" height="23" rx="4"/><text class="t tbg" x="598" y="2669">三、存在的不足</text></g>
<g id="b4-zuowei"><rect class="fg" x="266" y="1485" width="215" height="114" rx="4"/>
<text class="t tbg" x="272" y="1500.3"><tspan x="272" dy="0">作为公司经理，我深感自身肩负的责任重大，</tspan><tspan x="272" dy="13.1">因此我在工作和生活中特别注重加强自身建设</tspan><tspan x="272" dy="13.1">，加强政治理论和业务知识学习，不断提高素</tspan><tspan x="272" dy="13.1">质，同时工作作风严谨踏实，把求真务实的作</tspan><tspan x="272" dy="13.1">风落实到每一项工作、每一个环节，深入下属</tspan><tspan x="272" dy="13.1">各单位，熟悉各项业务和各个环节，扎扎实实</tspan><tspan x="272" dy="13.1">做好自己分管的各项工作，自觉遵守规章，廉</tspan><tspan x="272" dy="13.1">洁自律，起到了模范带头作用。</tspan></text></g>
<g id="b4-g1"><rect class="fg" x="276" y="1622" width="214" height="128" rx="4"/>
<text class="t tbg" x="282" y="1637.3"><tspan x="282" dy="0">（一）加强市场开发。今年，为了加大市场开</tspan><tspan x="282" dy="13.1">发力度，我们一是明确市场开发目标。针对城</tspan><tspan x="282" dy="13.1">区新建楼群分工包片、责任到人，集中力量，</tspan><tspan x="282" dy="13.1">签定合同，落实市场开发任务到人。二是加大</tspan><tspan x="282" dy="13.1">宣传力度。通过文艺演出和发放宣传资料，让</tspan><tspan x="282" dy="13.1">人们充分了解使用天然气的好处，促进市场的</tspan><tspan x="282" dy="13.1">开发。三是全员参与市场开发。挖掘每个员工</tspan><tspan x="282" dy="13.1">的潜力，每个人都将市场开发作为一项份内任</tspan><tspan x="282" dy="13.1">务，共同开发。</tspan></text></g>
<g id="b4-g2"><rect class="fg" x="276" y="1773" width="214" height="204" rx="4"/>
<text class="t tbg" x="282" y="1788.3"><tspan x="282" dy="0">（二）强化工程建设。一是加强对现场管理员</tspan><tspan x="282" dy="13.1">的培训。组织施工管理人员学习《城镇燃气设</tspan><tspan x="282" dy="13.1">计规范》、《施工管理手册》、《业务流程》</tspan><tspan x="282" dy="13.1">等内容，使员工明晰职责权限，懂得岗位技能</tspan><tspan x="282" dy="13.1">要点，熟悉操作流程，了解工作内容和控制过</tspan><tspan x="282" dy="13.1">程，能够独立制定本岗位的工作计划及时总结</tspan><tspan x="282" dy="13.1">成绩和不足。二是加强对施工队伍的管理。加</tspan><tspan x="282" dy="13.1">大了对施工过程全方位的监督，是每个程序都</tspan><tspan x="282" dy="13.1">到位，着手培养了管理人员的质量安全意识，</tspan><tspan x="282" dy="13.1">强化了对管理人员的质量安全教育，严把工程</tspan><tspan x="282" dy="13.1">质量关。三是加强工程管理责任体系建设。实</tspan><tspan x="282" dy="13.1">行了工程管理例会制和项目经理负责制，每周</tspan><tspan x="282" dy="13.1">召开一次工程调度分析会，及时总结工程施工</tspan><tspan x="282" dy="13.1">中经验及存在的问题，分析原因，制定对策，</tspan><tspan x="282" dy="13.1">合理的解决各种矛盾与难点。</tspan></text></g>
<g id="b4-g3"><rect class="fg" x="358" y="2001" width="132" height="22" rx="4"/><text class="t tbg" x="364" y="2015.6">（三）强化安全生产管理。</text></g>
<g id="b4-g4"><rect class="fg" x="277" y="2262" width="213" height="101" rx="4"/>
<text class="t tbg" x="283" y="2277.3"><tspan x="283" dy="0">4、狠抓质量工程。一是狠抓质量指标。安全</tspan><tspan x="283" dy="13.1">无事故率100%，运行调压合格率100%，整</tspan><tspan x="283" dy="13.1">体工程合格率100%，维修及时率100%，经</tspan><tspan x="283" dy="13.1">营无气损率100%（我们对公司经营的三条管</tspan><tspan x="283" dy="13.1">道气源，每天进行输出气量上下游核对，及时</tspan><tspan x="283" dy="13.1">发现问题及时解决，杜绝了经营中气损的发生</tspan><tspan x="283" dy="13.1">，从经营以来没有因气损造成经营损失）。</tspan></text></g>
<g id="b4-si"><rect class="fg" x="44" y="2045" width="213" height="273" rx="4"/>
<text class="t tbg" x="50" y="2060.3"><tspan x="50" dy="0">（四）狠抓安全指标。全年安全运行、车辆交</tspan><tspan x="50" dy="13.1">通无事故。三是抓好质量安全管理。首先是加</tspan><tspan x="50" dy="13.1">强组织领导。为了明确责任，组织成立了安全</tspan><tspan x="50" dy="13.1">委员会，对公司的安全问题全面指导监督公司</tspan><tspan x="50" dy="13.1">制定周安全生产例会，随时处理解决安全生产</tspan><tspan x="50" dy="13.1">中所发生的各种问题，尤其是今年迎"国庆"xx</tspan><tspan x="50" dy="13.1">期间，要求公司每位职工从思想上都要以政治</tspan><tspan x="50" dy="13.1">的高度来认识、重视，在此期间未出现任何不</tspan><tspan x="50" dy="13.1">安定的因素和安全事故。其次是普及了用户的</tspan><tspan x="50" dy="13.1">天然气安全知识。加大对用户正确使用燃气及</tspan><tspan x="50" dy="13.1">安全管理规定的宣传，先后共发放《用户安全</tspan><tspan x="50" dy="13.1">使用手册》x余份，避免了人为的安全事故。</tspan><tspan x="50" dy="13.1">再次是大力开展安全教育和培训工作。组织全</tspan><tspan x="50" dy="13.1">体员工学习安全知识，提高全员的安全意识及</tspan><tspan x="50" dy="13.1">安全技能，并进行了考核。x月份中旬，分别</tspan><tspan x="50" dy="13.1">对三种气源举行了抢险预案演习，增加了员工</tspan><tspan x="50" dy="13.1">的实战经验和在紧急情况下处理事故的快速反</tspan><tspan x="50" dy="13.1">应能力，加强了全体职工政治思想及普法教育</tspan><tspan x="50" dy="13.1">，提高了认识，全年没有一起违法犯罪现象发</tspan><tspan x="50" dy="13.1">生。</tspan></text></g>
<g id="b4-wu"><rect class="fg" x="44" y="2340" width="213" height="207" rx="4"/>
<text class="t tbg" x="50" y="2355.3"><tspan x="50" dy="0">（五）规范公司内部建设。一是健全规章制度</tspan><tspan x="50" dy="13.1">。组织全体职工学习，为公司的规范化管理奠</tspan><tspan x="50" dy="13.1">定了基础。二是加强宣传工作。搞好对内对外</tspan><tspan x="50" dy="13.1">宣传，利用宣传栏张贴公司的重要文件，各种</tspan><tspan x="50" dy="13.1">管理制度，好人好事等，积极向集团投稿，发</tspan><tspan x="50" dy="13.1">表各类稿件及时报道了公司内部发生的好人好</tspan><tspan x="50" dy="13.1">事、市场开发、工程建设、运营管理、后勤服</tspan><tspan x="50" dy="13.1">务等内容。公司综合办、发展部、生产营部共</tspan><tspan x="50" dy="13.1">同组织策划了"走进小区"发放宣传材料x余份</tspan><tspan x="50" dy="13.1">，扩大公司的社会知名度。三是提高服务质量</tspan><tspan x="50" dy="13.1">。今年在不断完善服务工作程序的基础上，开</tspan><tspan x="50" dy="13.1">展了一系列的服务培训，组织开展服务工作大</tspan><tspan x="50" dy="13.1">讨论，提高了服务质量，为用户维修、灶具近</tspan><tspan x="50" dy="13.1">千次，受到了居民的一致好评和认可，树立了</tspan><tspan x="50" dy="13.1">公司的服务品牌。</tspan></text></g>
<g id="b4-bz"><rect class="fg" x="358" y="2568" width="214" height="194" rx="4"/>
<text class="t tbg" x="364" y="2583.3"><tspan x="364" dy="0">20xx年，我带领公司上下齐心，攻坚克难，</tspan><tspan x="364" dy="13.1">全年管道天然气共发展民用户x户，工福户x</tspan><tspan x="364" dy="13.1">户，销售液化气x吨，销售天然气x万立方米</tspan><tspan x="364" dy="13.1">，销售焦炉煤气x万立方米。总经营收入x万</tspan><tspan x="364" dy="13.1">元，全年实现主营利润x万元，工程利润x万</tspan><tspan x="364" dy="13.1">元，取得了较好成绩，但也存在这不足和差距</tspan><tspan x="364" dy="13.1">：一是根据公司目前发展经营的需要在市场开</tspan><tspan x="364" dy="13.1">发方面还存在着薄弱环节，尤其是工商户的开</tspan><tspan x="364" dy="13.1">发，还需要继续做好深入的调研开发工作。二</tspan><tspan x="364" dy="13.1">是公司内部管理中还存在着劳动纪律松懈，执</tspan><tspan x="364" dy="13.1">行规章制度不严等。三是各专业岗位的职工技</tspan><tspan x="364" dy="13.1">能普遍存在能力偏低，需进一步提升岗位技能</tspan><tspan x="364" dy="13.1">的培训。在今后的工作中组织定期或不定期的</tspan><tspan x="364" dy="13.1">专业培训。</tspan></text></g>
</svg>
